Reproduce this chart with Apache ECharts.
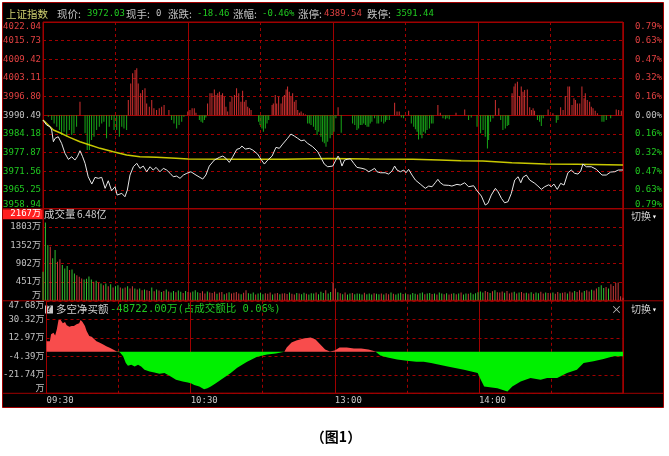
<!DOCTYPE html>
<html><head><meta charset="utf-8">
<script src="https://cdn.jsdelivr.net/npm/echarts@6/dist/echarts.min.js"></script>
<style>html,body{margin:0;padding:0;background:#fff;}#c{width:669px;height:456px;}</style>
</head><body><div id="c"></div>
<script>
// ---------- tick labels ----------
const priceLabels = ['3958.94','3965.25','3971.56','3977.87','3984.18','3990.49','3996.80','4003.11','4009.42','4015.73','4022.04'];
const pctLabels = ['0.79%','0.63%','0.47%','0.32%','0.16%','0.00%','0.16%','0.32%','0.47%','0.63%','0.79%'];
const volLabels = ['万','451万','902万','1352万','1803万','2167万'];
const netLabels = ['万','-21.74万','-4.39万','12.97万','30.32万','47.68万'];
const timeLabels = ['09:30','10:30','13:00','14:00',''];
// ---------- header texts ----------
const headerTexts = ['上证指数','现价:','3972.03','现手:','0','涨跌:','-18.46','涨幅:','-0.46%','涨停:','4389.54','跌停:','3591.44'];
const volTitle = ['成交量','6.48亿'];
const netTitle = ['多空净买额','-48722.00万(占成交额比 0.06%)'];
const caption = '（图1）';
// ---------- price line (minute, price) ----------
const priceTimes = [0,1.5,2.9,3.6,4.3,5.0,6.3,7.7,9.1,10.5,11.9,13.2,14.2,15.3,16.4,17.4,18.7,20.2,21.5,22.9,24.3,25.7,27.0,28.4,29.8,30.7,32.6,33.9,34.9,36.0,37.4,38.8,40.1,41.5,42.9,44.3,45.6,46.8,48.4,49.8,51.2,52.6,53.9,55.3,56.7,58.1,59.5,61.2,63.3,66.1,67.4,68.8,70.9,73.0,74.4,75.7,77.1,78.5,80.2,81.5,82.3,83.7,85.4,86.8,88.8,90.2,91.6,93.0,94.8,96.4,97.8,99.2,101.2,102.6,104.0,105.4,106.8,108.1,109.5,111.6,113.7,115.0,116.4,117.8,119.9,121.0,122.1,123.0,123.7,124.8,125.8,127.2,128.6,129.9,132.0,133.4,134.8,136.1,137.2,138.2,139.6,141.6,143.0,144.4,145.5,146.5,147.9,149.3,150.2,151.3,152.7,154.1,156.1,158.2,159.6,161.0,162.3,163.4,164.4,165.8,167.9,169.2,171.3,172.7,174.5,176.1,178.2,179.6,181.4,183.0,184.1,185.5,187.2,188.3,189.7,191.0,192.4,193.8,195.2,196.6,197.7,198.6,200.0,201.4,203.5,204.8,206.2,207.6,209.3,210.3,211.4,212.8,214.2,215.6,217.2,218.6,220.0,221.4,222.5,223.4,224.8,226.9,229.0,231.3,233.1,234.9,236.6,238.0,240.0];
const priceValues = [3988.90,3987.21,3986.64,3985.52,3981.57,3982.72,3983.26,3981.03,3977.65,3975.62,3976.50,3975.38,3976.50,3978.53,3976.50,3974.27,3969.74,3967.27,3969.53,3969.20,3969.53,3965.82,3968.39,3965.01,3966.36,3963.55,3964.13,3962.98,3965.24,3970.31,3973.12,3974.27,3972.58,3973.35,3971.43,3973.12,3972.00,3972.91,3971.43,3972.58,3972.00,3970.89,3969.74,3969.97,3969.20,3970.31,3970.89,3971.43,3970.31,3968.96,3970.31,3973.35,3975.38,3976.29,3976.73,3975.96,3974.60,3976.50,3979.00,3979.34,3980.11,3979.10,3979.34,3978.76,3977.41,3975.62,3974.03,3975.38,3976.73,3979.67,3979.34,3980.79,3982.72,3984.17,3983.49,3982.72,3981.91,3982.14,3981.03,3979.88,3978.19,3976.16,3974.03,3973.12,3973.35,3975.10,3976.73,3975.38,3973.35,3975.38,3975.62,3975.82,3974.27,3972.91,3972.58,3972.24,3971.43,3972.00,3972.58,3971.43,3971.09,3971.09,3970.65,3971.66,3973.35,3972.00,3971.43,3972.00,3971.09,3972.24,3970.31,3968.62,3967.27,3965.82,3966.59,3966.36,3967.71,3968.86,3967.71,3966.93,3966.83,3966.59,3967.17,3966.93,3967.71,3966.36,3966.70,3965.01,3963.21,3960.17,3960.75,3963.55,3965.82,3964.67,3962.44,3960.95,3961.29,3964.13,3968.62,3969.74,3967.71,3969.53,3970.31,3968.62,3967.51,3966.59,3965.48,3966.36,3967.03,3966.36,3967.27,3965.48,3967.51,3966.93,3971.09,3972.00,3970.89,3970.65,3971.66,3974.03,3973.12,3973.12,3972.24,3970.31,3970.31,3971.33,3971.43,3972.00,3972.03];
// ---------- average price line ----------
const avgTimes = [0,4.3,7,11,15.3,19.4,23.6,29.1,34.6,40.1,47,55,60,80,100,118,135,153,164,173,182,194,208,221,240];
const avgValues = [3988.9,3985.52,3984.61,3983.05,3981.57,3980.45,3979.34,3978.19,3977.07,3976.50,3976.29,3975.96,3975.72,3975.62,3975.62,3975.90,3975.72,3975.62,3975.38,3975.15,3975.04,3974.47,3974.03,3973.93,3973.69];
// ---------- red/green strength bars (grid-step units) ----------
const barTimes = [2.2,3.6,4.6,5.7,6.8,7.7,8.7,9.8,10.9,11.9,12.8,13.9,15.3,17.4,18.3,19.2,20.1,21.1,22.2,23.3,24.3,25.2,26.3,27.4,28.4,29.4,30.5,31.6,32.6,33.5,34.6,35.3,36.3,37.1,38.1,38.8,39.4,40.4,41.2,42.2,42.9,44.0,45.0,45.9,47.0,48.1,49.1,50.1,52.1,53.2,54.2,55.3,56.3,57.4,58.3,
59.9,60.8,61.7,62.6,63.3,64.7,65.4,66.1,66.8,67.4,68.1,69.1,69.9,70.9,71.6,72.3,73.0,73.7,74.3,75.0,75.7,76.4,77.4,78.2,79.2,80.1,81.0,81.9,82.6,83.3,84.0,84.7,85.4,86.1,89.2,89.8,90.6,91.2,92.0,92.7,93.4,94.8,95.3,96.1,96.7,97.5,98.5,99.2,99.9,100.6,101.2,101.9,102.6,103.3,104.0,104.7,105.4,106.1,106.8,107.7,108.6,109.5,110.2,110.9,111.9,112.7,113.4,114.1,115.0,115.7,116.4,117.1,117.8,118.8,119.6,120.4,
121.2,122.1,123.4,128.1,129.0,129.9,130.6,131.3,132.0,132.7,133.4,134.1,134.8,135.4,136.1,137.2,138.2,138.9,140.0,141.0,141.7,142.3,143.3,145.5,146.5,147.4,148.3,149.2,151.3,152.4,153.4,154.1,154.8,155.4,156.1,156.8,157.5,158.2,158.9,159.9,160.7,161.4,163.4,164.4,165.5,166.5,167.2,168.1,170.9,174.5,176.1,177.2,179.6,
181.1,182.1,183.0,183.9,184.4,185.2,186.2,187.2,188.6,189.4,190.3,191.3,192.1,192.7,194.1,194.9,195.4,196.3,197.2,197.9,198.6,199.3,200.4,201.4,202.1,202.8,203.4,204.6,205.5,206.2,207.0,209.0,211.0,212.4,213.1,214.2,215.2,216.1,217.2,217.9,218.9,219.7,220.3,221.1,222.1,223.0,223.9,224.4,225.2,226.2,226.9,227.6,228.5,229.4,231.3,232.1,233.1,234.9,237.2,238.2,239.3];
const barValues = [-0.07,-0.25,-0.43,-0.61,-0.79,-1.05,-0.88,-1.14,-0.79,-1.05,-0.96,-0.61,0.73,-0.96,-1.86,-1.86,-1.32,-1.14,-0.79,-0.61,-0.43,-0.34,-1.23,-0.61,-0.25,-0.79,-0.79,-1.14,-0.61,-0.70,-0.79,0.82,1.71,2.25,2.43,2.52,1.71,1.18,1.36,1.45,0.64,0.46,0.82,0.38,0.29,0.38,0.46,0.55,0.29,-0.25,-0.43,-0.70,-0.52,-0.34,-0.07,
0.20,0.29,0.38,0.38,0.14,-0.25,-0.34,-0.39,-0.25,-0.11,0.64,1.18,1.18,1.39,1.09,1.18,1.27,1.09,1.18,1.00,0.46,0.20,0.73,1.00,1.09,1.45,1.18,0.73,1.32,0.73,0.82,0.46,0.38,0.29,-0.34,-0.52,-0.70,-0.88,-0.70,-0.43,-0.25,0.55,0.64,1.09,0.64,1.00,0.64,1.00,1.09,1.39,1.54,1.27,1.00,1.18,0.73,0.82,0.29,0.14,0.20,0.11,0.05,-0.43,-0.43,-0.52,-0.61,-0.79,-1.05,-0.88,-1.14,-1.41,-1.50,-1.68,-1.41,-1.23,-1.05,-0.88,
-0.16,0.43,-0.93,-0.43,-0.52,-0.79,-0.70,-0.52,-0.52,-0.43,-0.52,-0.61,-0.61,-0.43,-0.34,-0.16,-0.43,-0.43,-0.34,-0.43,-0.34,-0.25,-0.25,0.68,0.20,0.20,-0.11,-0.16,0.25,-0.43,-0.61,-0.75,-0.88,-1.29,-1.05,-1.23,-0.88,-0.96,-0.79,-0.70,-0.43,-0.43,0.55,0.14,-0.16,-0.21,-0.16,-0.21,0.14,0.32,-0.25,-0.11,-0.61,
-0.96,-0.79,-1.14,-1.77,-1.32,-0.34,-0.16,0.82,0.38,-0.25,-0.79,-0.70,-0.57,-0.52,1.18,1.54,1.71,1.80,1.04,1.54,1.27,1.36,1.39,0.43,0.29,0.38,0.25,-0.25,-0.34,-0.57,-0.16,0.32,0.11,-0.39,-0.25,0.43,0.29,1.04,1.54,1.54,0.55,0.91,0.82,0.64,0.64,1.54,0.91,1.18,0.82,0.73,0.46,0.38,0.25,0.11,-0.34,-0.34,-0.25,-0.16,0.32,0.29,0.25];
// ---------- volume per minute (万) ----------
const volumes = [701,1915,1362,1320,1033,1239,949,1008,867,785,
842,743,760,661,619,578,537,512,528,586,
512,454,479,429,413,372,413,347,396,314,
347,372,314,289,314,347,289,347,289,264,
289,248,264,248,230,314,220,264,240,205,
230,264,215,190,230,198,240,210,180,230,
205,190,215,248,200,180,225,170,215,195,
180,210,160,190,205,150,175,200,165,185,
206,170,150,185,248,175,160,190,140,170,
185,150,175,160,195,140,170,180,150,165,
175,155,190,160,145,180,170,150,185,160,
140,175,165,190,150,210,180,248,170,206,
428,290,200,175,150,190,140,165,180,150,
170,160,145,185,150,170,140,175,160,150,
165,140,175,150,190,160,145,170,185,155,
170,150,140,180,160,145,175,190,150,165,
180,155,170,145,190,165,150,175,140,160,
175,150,165,190,145,170,160,185,150,175,
200,215,190,230,205,180,225,250,200,190,
215,185,230,170,195,210,165,190,205,175,
185,170,200,160,190,175,210,165,195,180,
170,190,160,205,175,185,200,170,215,190,
230,205,248,190,230,248,215,260,240,290,
330,372,300,330,290,396,350,428,440,100,
60];
const volUp = ['gggrggrrgg','grggrrrggg','grgrgrgrgr','ggrgrgrrgr','grgrrgrgrg','rgrggrggrg','rrgggrrrgr','rrgrrgrgrr','rrgrrgggrg','ggrrrgrrgr','rrgrrgrggr','gggrgggrgg','rrgrgrggrg','gggrgggrgg','rgrrgrgggr','grgggrggrg','grgrggrgrr','grgrggrggg','gggrrgrgrr','rgrrrgrgrr','grgrggrrgr','rgrrgrrgrr','grrrgrrgrr','gggrgrrrrr','r'].join('');
// ---------- net buy (多空净买额) ----------
const netTimes = [0,1.4,1.9,2.9,3.6,4.3,5.0,5.9,6.8,7.7,8.4,9.5,10.5,11.4,12.5,13.6,14.2,15.0,16.0,16.7,17.8,18.8,19.7,20.8,22.2,23.6,24.9,26.3,27.7,29.1,29.8,30.5,31.9,33.0,33.9,35.3,36.7,38.1,39.4,40.8,42.9,44.9,47.0,49.1,51.2,53.9,56.7,58.8,60.1,61.5,63.6,65.6,67.0,68.4,70.5,72.6,74.6,76.7,79.4,83.5,87.7,91.8,95.5,99,100,102,104,107,110,112,114,116,118,120,122,125,128,131,134,137,139,142,146,150,154,157,160.1,167.0,173.8,179.5,180.8,182.2,187.7,191.9,193.9,197.4,201.5,205.7,208.4,212.6,216.7,220.8,223.6,227.7,231.9,236.0,240];
const netValues = [9.8,9.8,16.2,17.8,15.2,20.9,29.7,29.7,26.6,27.8,24.7,23.4,24.0,24.0,25.6,26.6,29.7,27.8,24.0,19.3,14.6,14.0,12.1,9.8,8.3,6.7,5.1,3.6,2.0,0.3,0,-0.5,-4.4,-10.6,-13.2,-12.3,-13.9,-12.3,-13.9,-17.0,-18.6,-19.5,-20.8,-20.1,-22.7,-26.4,-28.1,-29.0,-29.6,-31.2,-32.8,-35.3,-34.3,-32.8,-29.6,-26.4,-23.3,-20.1,-15.1,-9.4,-4.7,-2.8,-1.8,0,3.8,8.6,10.5,12.4,13.3,11.4,6.7,2.0,0.1,1.0,3.8,3.8,2.9,2.9,2.0,0.1,-3.7,-5.6,-7.5,-8.5,-9.4,-9.4,-10.6,-13.9,-17.0,-20.1,-26.5,-32.8,-34.3,-37.5,-32.8,-28.1,-24.8,-26.5,-24.8,-24.8,-20.1,-17.0,-10.6,-9.1,-6.9,-4.4,-4.4];

// ---------- styling ----------
const NUM = '"DejaVu Sans Mono","Noto Sans CJK SC",monospace';
const CN = '"Noto Sans CJK SC",sans-serif';
const GRIDC = '#a00000';
const RED = '#e04040', GREEN = '#20c820', GRAY = '#c0c0c0';
const dash = {show:true, lineStyle:{color:GRIDC, type:[3,3], width:1}};
const solid = {show:true, lineStyle:{color:GRIDC, type:'solid', width:1}};
const zip = (a, b) => a.map((t, i) => [t, b[i]]);
const byIdx = (labels, min, step) => v => labels[Math.round((Number(v) - min) / step)] || '';

const grids = [
  {left:43, top:22, width:580, height:186.7},
  {left:43, top:208.7, width:580, height:91.6},
  {left:43, top:300.8, width:580, height:92.5}
];
grids.forEach(g => { g.show = true; g.borderColor = GRIDC; g.borderWidth = 1; g.backgroundColor = 'transparent'; });

const xAxes = [];
[0,1,2].forEach(gi => {
  xAxes.push({type:'value', gridIndex:gi, min:0, max:240, interval:30, position:'top',
    axisLine:{show:false}, axisTick:{show:false}, axisLabel:{show:false}, splitLine:dash});
  xAxes.push({type:'value', gridIndex:gi, min:0, max:240, interval:60, position:'bottom', z:1,
    axisLine:{show:false}, axisTick:{show:false}, splitLine:solid,
    axisLabel:{show: gi === 2, formatter: v => timeLabels[Math.round(v/60)] || '', align:'left', margin:3,
      color:'#c8c8c8', fontFamily:NUM, fontSize:9}});
});

const baseLbl = {fontFamily:NUM, fontSize:9, verticalAlignMaxLabel:'top', verticalAlignMinLabel:'bottom'};
const yAxes = [
  {type:'value', gridIndex:0, min:3958.94, max:4022.04, interval:6.31, position:'left',
    axisLine:{show:false}, axisTick:{show:false}, splitLine:dash,
    axisLabel:Object.assign({}, baseLbl, {margin:2, formatter: byIdx(priceLabels, 3958.94, 6.31),
      color: v => { const k = Math.round((Number(v)-3958.94)/6.31); return k < 5 ? GREEN : (k === 5 ? GRAY : RED); }})},
  {type:'value', gridIndex:0, min:-0.79, max:0.79, interval:0.158, position:'right',
    axisLine:{show:false}, axisTick:{show:false}, splitLine:{show:false},
    axisLabel:Object.assign({}, baseLbl, {margin:39, align:'right', formatter: byIdx(pctLabels, -0.79, 0.158),
      color: v => { const k = Math.round((Number(v)+0.79)/0.158); return k < 5 ? GREEN : (k === 5 ? GRAY : RED); }})},
  {type:'value', gridIndex:0, min:-5, max:5, interval:5, position:'left', z:1,
    axisLine:{show:false}, axisTick:{show:false}, axisLabel:{show:false}, splitLine:solid},
  {type:'value', gridIndex:1, min:0, max:2254, interval:450.8, position:'left',
    axisLine:{show:false}, axisTick:{show:false}, splitLine:dash,
    axisLabel:Object.assign({}, baseLbl, {margin:2, formatter: byIdx(volLabels, 0, 450.8),
      color: v => Number(v) > 2200 ? '#ffffff' : GRAY})},
  {type:'value', gridIndex:2, min:-39.095, max:47.68, interval:17.355, position:'left',
    axisLine:{show:false}, axisTick:{show:false}, splitLine:dash,
    axisLabel:Object.assign({}, baseLbl, {margin:2, formatter: byIdx(netLabels, -39.095, 17.355), color:GRAY})}
];

const series = [
  {type:'bar', xAxisIndex:0, yAxisIndex:2, barWidth:1, data: zip(barTimes, barValues),
    itemStyle:{color: p => p.value[1] >= 0 ? '#d03030' : '#18a818'}},
  {type:'line', xAxisIndex:0, yAxisIndex:0, data: zip(avgTimes, avgValues), symbol:'none',
    lineStyle:{color:'#c8c800', width:1.5}},
  {type:'line', xAxisIndex:0, yAxisIndex:0, data: zip(priceTimes, priceValues), symbol:'none',
    lineStyle:{color:'#e6e6e6', width:1}},
  {type:'bar', xAxisIndex:2, yAxisIndex:3, barWidth:1, data: volumes.map((v, i) => [i, v]),
    itemStyle:{color: p => volUp[p.dataIndex] === 'r' ? '#c83838' : '#30c030'}},
  {type:'line', xAxisIndex:4, yAxisIndex:4, data: netTimes.map((t, i) => [t, Math.max(netValues[i], 0)]), symbol:'none',
    lineStyle:{width:0, color:'#f84c4c'}, itemStyle:{color:'#f84c4c'}, areaStyle:{color:'#f84c4c', opacity:1, origin:'auto'}},
  {type:'line', xAxisIndex:4, yAxisIndex:4, data: netTimes.map((t, i) => [t, Math.min(netValues[i], 0)]), symbol:'none',
    lineStyle:{width:0, color:'#00f000'}, itemStyle:{color:'#00f000'}, areaStyle:{color:'#00f000', opacity:1, origin:'auto'}}
];

const T = (x, y, s, color, font, align) => ({type:'text', x:x, y:y, silent:true,
  style:{text:s, fill:color, font:font, textAlign:align || 'left', align:align || 'left', textVerticalAlign:'middle', verticalAlign:'middle'}});
const L = (x1, y1, x2, y2) => ({type:'line', silent:true, shape:{x1:x1, y1:y1, x2:x2, y2:y2}, style:{stroke:GRIDC, lineWidth:1}});

const headerX = [6,57,87,126,156,168,197,233,262,298,324,367,396];
const headerC = ['#d0d070',GRAY,GREEN,GRAY,GRAY,GRAY,GREEN,GRAY,GREEN,GRAY,RED,GRAY,GREEN];
const cnFont = '10.5px ' + CN, numFont = '9px ' + NUM;
const graphics = [
  {type:'rect', z:-100, silent:true, shape:{x:2.5, y:2.5, width:661, height:405}, style:{fill:'#000', stroke:GRIDC, lineWidth:1}},
  L(2.5, 208.7, 663.5, 208.7), L(2.5, 300.8, 663.5, 300.8), L(2.5, 393.3, 663.5, 393.3), L(623, 22, 623, 393.3),
  {type:'rect', z:-1, silent:true, shape:{x:3, y:209.2, width:40, height:10}, style:{fill:'#ff2020'}}
];
headerTexts.forEach((s, i) => {
  const isNum = /^[-0-9.%]+$/.test(s);
  graphics.push(T(headerX[i], 14, s, headerC[i], isNum ? numFont : cnFont));
});
graphics.push(T(44, 214.5, volTitle[0], '#d0d0d0', cnFont));
graphics.push(T(77, 214.5, volTitle[1], '#d0d0d0', '10px ' + CN));
graphics.push({type:'rect', silent:true, shape:{x:45, y:305.5, width:8, height:8}, style:{fill:'#c8c8c8'}});
graphics.push(T(46.5, 309.8, '?', '#000', 'bold 8px ' + NUM));
graphics.push(T(56, 309.5, netTitle[0], '#d0d0d0', cnFont));
graphics.push(T(110, 309.5, netTitle[1], GREEN, '10.5px ' + NUM));
graphics.push(T(611, 309.5, '×', '#c0c0c0', '11px ' + CN));
graphics.push(T(631, 216.5, '切换', '#d0d0d0', '10px ' + CN));
graphics.push(T(652, 216.5, '▾', '#ffffff', '8px ' + NUM));
graphics.push(T(631, 309.5, '切换', '#d0d0d0', '10px ' + CN));
graphics.push(T(652, 309.5, '▾', '#ffffff', '8px ' + NUM));
graphics.push(T(336, 437, caption, '#000', 'bold 14px ' + CN, 'center'));

const chart = echarts.init(document.getElementById('c'), null, {renderer:'canvas'});
chart.setOption({
  animation:false,
  backgroundColor:'#ffffff',
  grid:grids, xAxis:xAxes, yAxis:yAxes, series:series,
  graphic:{elements:graphics}
});
</script></body></html>
